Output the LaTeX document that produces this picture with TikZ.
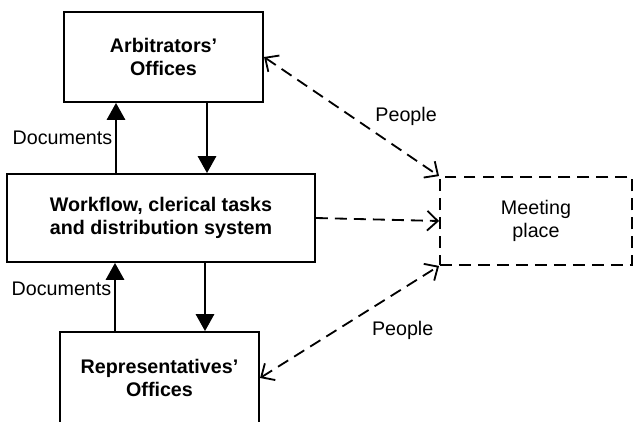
\documentclass[tikz,border=0pt]{standalone}
\usepackage{fontspec}
\setmainfont{Liberation Sans}
\usetikzlibrary{arrows.meta}

\begin{document}
\begin{tikzpicture}[x=0.025cm, y=-0.025cm,
  >={Straight Barb[length=7.5pt,width=14pt,line width=1.3pt]},
  box/.style={draw, line width=1.3pt, align=center, inner sep=0pt,
    font=\fontsize{14}{16.5}\selectfont\bfseries},
  meetbox/.style={draw, dash pattern=on 8.5pt off 5pt, line width=1.3pt,
    align=center, inner sep=0pt, font=\fontsize{14}{16.5}\selectfont},
  docarrow/.style={line width=1.3pt, -{Triangle[length=12pt,width=13pt]}},
  peoplearrow/.style={line width=1.3pt, dash pattern=on 8.5pt off 5pt},
  lbl/.style={font=\fontsize{14}{16.5}\selectfont}]
  \useasboundingbox (0,0) rectangle (634,422);

  % Boites
  \node[box, minimum width=4.98cm, minimum height=2.25cm] (arb) at (163.5,57) {Arbitrators'\\Offices};
  \node[box, minimum width=7.7cm, minimum height=2.2cm] (wf) at (161,218) {Workflow, clerical tasks\\and distribution system};
  \node[box, minimum width=4.98cm, minimum height=2.3cm] (rep) at (159.5,378) {Representatives'\\Offices};
  \node[meetbox, minimum width=4.8cm, minimum height=2.2cm] (meet) at (536,221) {Meeting\\place};

  % Documents
  \draw[docarrow] (wf.north -| 116,0) -- (arb.south -| 116,0)
    node[midway, left, inner sep=2pt, lbl] (doc1) {Documents};
  \draw[docarrow] (arb.south -| 207,0) -- (wf.north -| 207,0);
  \draw[docarrow] (rep.north -| 115,0) -- (wf.south -| 115,0)
    node[pos=0.62, left, inner sep=2pt, lbl] (doc2) {Documents};
  \draw[docarrow] (wf.south -| 205,0) -- (rep.north -| 205,0);

  % People
  \draw[peoplearrow, <->] (arb.east) -- (meet.north west)
    node[midway, right=13pt, lbl] (ppl1) {People};
  \draw[peoplearrow, ->] (wf.east) -- (meet.west);
  \draw[peoplearrow, <->] (rep.east) -- (meet.south west)
    node[midway, right=12pt, yshift=-6pt, lbl] (ppl2) {People};
\end{tikzpicture}
\end{document}
